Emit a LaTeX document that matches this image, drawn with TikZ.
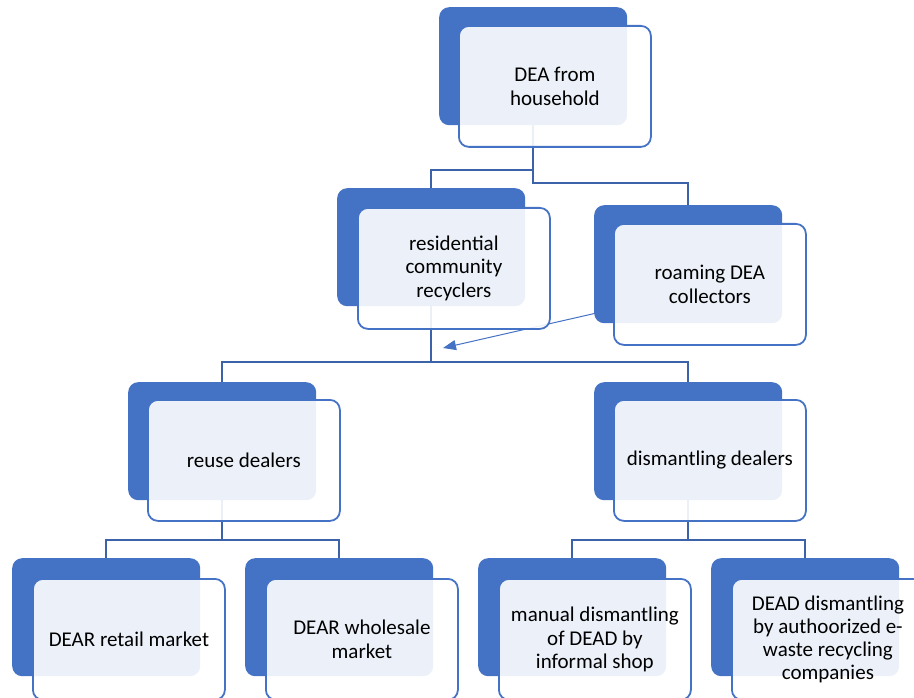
\documentclass[tikz,border=0pt]{standalone}
\usepackage{fontspec}
\setmainfont{Carlito}
\usetikzlibrary{arrows.meta}
\definecolor{accent}{HTML}{4472C4}
\definecolor{connc}{HTML}{3C63AA}
\tikzset{
  backbox/.style={fill=accent, draw=none, rounded corners=10pt, minimum width=188pt, minimum height=118pt, anchor=north west, inner sep=0pt},
  frontbox/.style={draw=accent, line width=1.8pt, fill=white, fill opacity=0.9, text opacity=1, rounded corners=10pt, minimum width=192pt, minimum height=121pt, anchor=north west, inner sep=0pt, align=center, font=\fontsize{21}{23.3}\selectfont, text=black},
  conn/.style={draw=connc, line width=1.8pt},
  arr/.style={draw=accent, line width=1pt, -{Triangle[length=13pt,width=10pt]}}
}
\begin{document}
\begin{tikzpicture}[x=1pt,y=-1pt]
\useasboundingbox (0,0) rectangle (914,698);
% back boxes
\node[backbox] (topb) at (439,7) {};
\node[backbox] (resb) at (337,188) {};
\node[backbox] (roamb) at (594,205) {};
\node[backbox] (reub) at (128,382) {};
\node[backbox] (disb) at (594,382) {};
\node[backbox] (retb) at (12,558) {};
\node[backbox] (whob) at (245,558) {};
\node[backbox] (manb) at (478,558) {};
\node[backbox] (deadb) at (711,558) {};
% connectors
\draw[conn] (topb.south) -- (topb.south |- 0,170) -| (resb.north);
\draw[conn] (topb.south) -- (topb.south |- 0,183) -| (roamb.north);
\draw[conn] (resb.south) -- (resb.south |- 0,362) -| (reub.north);
\draw[conn] (resb.south |- 0,362) -| (disb.north);
\draw[conn] (reub.south) -- (reub.south |- 0,540) -| (retb.north);
\draw[conn] (reub.south |- 0,540) -| (whob.north);
\draw[conn] (disb.south) -- (disb.south |- 0,540) -| (manb.north);
\draw[conn] (disb.south |- 0,540) -| (deadb.north);
\coordinate (arrs) at (623,307);
\coordinate (arre) at (443,348);
\draw[arr] (arrs) -- (arre);
% front boxes
\node[frontbox] (top) at (458,25) {DEA from\\household};
\node[frontbox] (res) at (357,207) {residential\\community\\recyclers};
\node[frontbox] (roam) at (613,223) {roaming DEA\\collectors};
\node[frontbox] (reu) at (147,399) {reuse dealers};
\node[frontbox] (dis) at (613,399) {dismantling dealers};
\node[frontbox] (ret) at (32,578) {DEAR retail market};
\node[frontbox] (who) at (265,578) {DEAR wholesale\\market};
\node[frontbox] (man) at (498,578) {manual dismantling\\of DEAD by\\informal shop};
\node[frontbox] (dead) at (731,578) {DEAD dismantling\\by authoorized e-\\waste recycling\\companies};
\end{tikzpicture}
\end{document}
